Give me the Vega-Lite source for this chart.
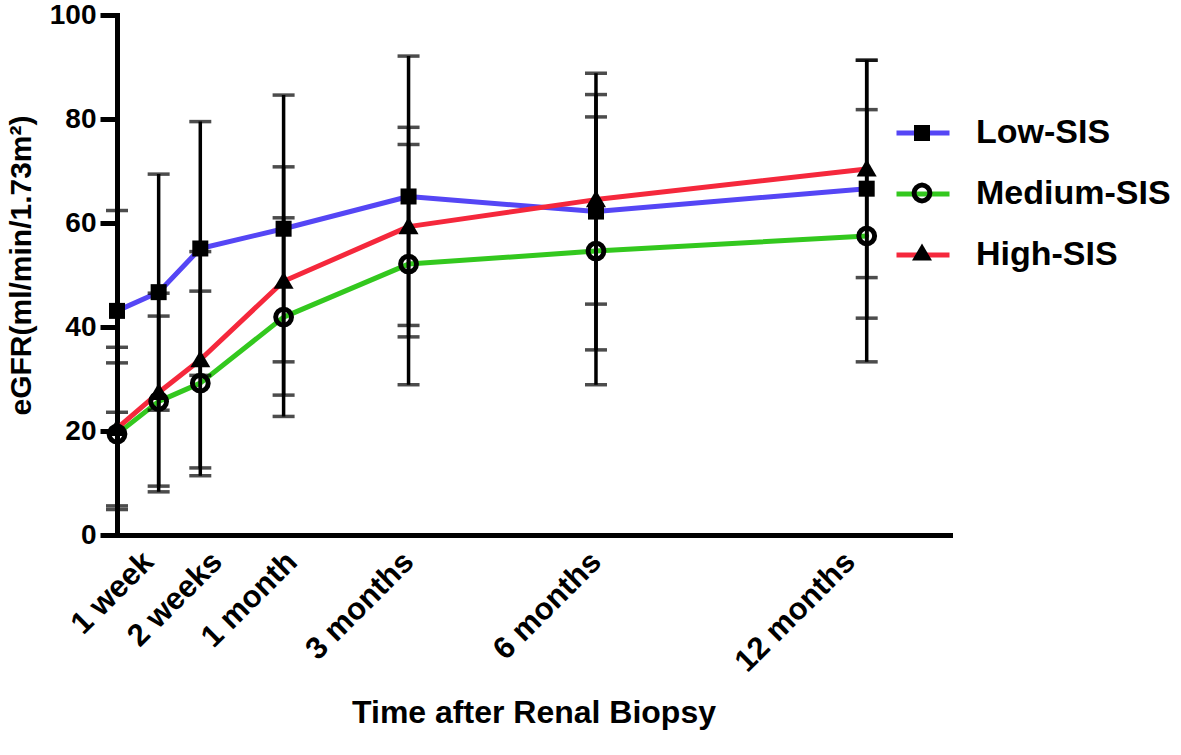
{
  "$schema": "https://vega.github.io/schema/vega-lite/v6.json",
  "width": 833,
  "height": 520,
  "autosize": "none",
  "padding": {"left": 117, "top": 15, "right": 231, "bottom": 220},
  "background": "white",
  "config": {
    "font": "Liberation Sans",
    "view": {"stroke": null},
    "axis": {"grid": false}
  },
  "data": {
    "values": [
      {"group": "Low-SIS", "time": "Biopsy", "t": 0, "mean": 43.1, "lo": 23.6, "hi": 62.4},
      {"group": "Low-SIS", "time": "1 week", "t": 1, "mean": 46.7, "lo": 24.0, "hi": 69.4},
      {"group": "Low-SIS", "time": "2 weeks", "t": 2, "mean": 55.1, "lo": 30.7, "hi": 79.5},
      {"group": "Low-SIS", "time": "1 month", "t": 4, "mean": 58.9, "lo": 33.3, "hi": 84.6},
      {"group": "Low-SIS", "time": "3 months", "t": 7, "mean": 65.1, "lo": 38.1, "hi": 92.1},
      {"group": "Low-SIS", "time": "6 months", "t": 11.5, "mean": 62.2, "lo": 35.6, "hi": 88.8},
      {"group": "Low-SIS", "time": "12 months", "t": 18, "mean": 66.6, "lo": 41.7, "hi": 91.3},
      {"group": "Medium-SIS", "time": "Biopsy", "t": 0, "mean": 19.4, "lo": 5.6, "hi": 33.1},
      {"group": "Medium-SIS", "time": "1 week", "t": 1, "mean": 25.7, "lo": 9.4, "hi": 42.1},
      {"group": "Medium-SIS", "time": "2 weeks", "t": 2, "mean": 29.2, "lo": 11.4, "hi": 46.9},
      {"group": "Medium-SIS", "time": "1 month", "t": 4, "mean": 41.9, "lo": 22.8, "hi": 61.0},
      {"group": "Medium-SIS", "time": "3 months", "t": 7, "mean": 52.1, "lo": 28.9, "hi": 75.1},
      {"group": "Medium-SIS", "time": "6 months", "t": 11.5, "mean": 54.6, "lo": 28.9, "hi": 80.4},
      {"group": "Medium-SIS", "time": "12 months", "t": 18, "mean": 57.5, "lo": 33.3, "hi": 81.8},
      {"group": "High-SIS", "time": "Biopsy", "t": 0, "mean": 20.5, "lo": 4.9, "hi": 36.1},
      {"group": "High-SIS", "time": "1 week", "t": 1, "mean": 27.4, "lo": 8.3, "hi": 46.5},
      {"group": "High-SIS", "time": "2 weeks", "t": 2, "mean": 33.7, "lo": 12.9, "hi": 54.5},
      {"group": "High-SIS", "time": "1 month", "t": 4, "mean": 48.8, "lo": 26.9, "hi": 70.8},
      {"group": "High-SIS", "time": "3 months", "t": 7, "mean": 59.3, "lo": 40.3, "hi": 78.4},
      {"group": "High-SIS", "time": "6 months", "t": 11.5, "mean": 64.5, "lo": 44.4, "hi": 84.7},
      {"group": "High-SIS", "time": "12 months", "t": 18, "mean": 70.4, "lo": 49.5, "hi": 91.3}
    ]
  },
  "layer": [
    {
      "mark": {"type": "line", "strokeWidth": 5, "strokeCap": "round", "strokeJoin": "round"},
      "encoding": {
        "x": {
          "field": "t", "type": "quantitative", "title": "Time after Renal Biopsy",
          "scale": {"domain": [0, 20], "nice": false, "zero": false},
          "axis": {
            "values": [0.75, 2.4, 4.2, 7, 11.5, 17.6],
            "labelExpr": "datum.value < 1.5 ? '1 week' : datum.value < 3 ? '2 weeks' : datum.value < 5 ? '1 month' : datum.value < 9 ? '3 months' : datum.value < 14 ? '6 months' : '12 months'",
            "labelAngle": -45, "labelAlign": "right", "labelBaseline": "middle",
            "ticks": false, "labelPadding": 22,
            "labelFontSize": 31, "labelFontWeight": "bold", "labelColor": "black",
            "labelFlush": false, "labelOverlap": false, "labelBound": false,
            "domainColor": "black", "domainWidth": 5, "domainCap": "square",
            "titleFontSize": 32, "titleFontWeight": "bold", "titleColor": "black", "titlePadding": 20
          }
        },
        "y": {
          "field": "mean", "type": "quantitative", "title": "eGFR(ml/min/1.73m²)",
          "scale": {"domain": [0, 100], "nice": false},
          "axis": {
            "values": [0, 20, 40, 60, 80, 100],
            "labelFontSize": 28, "labelFontWeight": "bold", "labelColor": "black", "labelPadding": 4,
            "labelFlush": false,
            "tickSize": 17, "tickWidth": 5, "tickColor": "black",
            "domainColor": "black", "domainWidth": 5, "domainCap": "square",
            "titleFontSize": 30, "titleFontWeight": "bold", "titleColor": "black", "titlePadding": 13,
            "titleY": 250
          }
        },
        "color": {
          "field": "group", "type": "nominal",
          "scale": {"domain": ["Low-SIS", "Medium-SIS", "High-SIS"], "range": ["#5546F5", "#33C81E", "#F5283C"]},
          "legend": {
            "orient": "none", "legendX": 777, "legendY": 89, "title": null, "padding": 0,
            "symbolType": "stroke", "symbolStrokeWidth": 5, "symbolSize": 2809,
            "labelFontSize": 34, "labelFontWeight": "bold", "labelColor": "black",
            "labelOffset": 24, "rowPadding": 15, "labelLimit": 400
          }
        }
      }
    },
    {
      "mark": {"type": "errorbar", "ticks": true, "size": 22, "thickness": 3.5, "color": "black"},
      "encoding": {
        "x": {"field": "t", "type": "quantitative", "title": "Time after Renal Biopsy"},
        "y": {"field": "lo", "type": "quantitative", "title": "eGFR(ml/min/1.73m²)"},
        "y2": {"field": "hi"},
        "detail": {"field": "group", "type": "nominal"}
      }
    },
    {
      "mark": {"type": "point", "filled": true, "color": "black", "strokeWidth": 0, "opacity": 1, "size": 256},
      "encoding": {
        "x": {"field": "t", "type": "quantitative", "title": "Time after Renal Biopsy"},
        "y": {"field": "mean", "type": "quantitative", "title": "eGFR(ml/min/1.73m²)"},
        "shape": {
          "field": "group", "type": "nominal",
          "sort": ["Low-SIS", "Medium-SIS", "High-SIS"],
          "scale": {"range": [
            "square",
            "M1.3,0L1.2011,0.4975L0.9192,0.9192L0.4975,1.2011L0,1.3L-0.4975,1.2011L-0.9192,0.9192L-1.2011,0.4975L-1.3,0L-1.2011,-0.4975L-0.9192,-0.9192L-0.4975,-1.2011L0,-1.3L0.4975,-1.2011L0.9192,-0.9192L1.2011,-0.4975ZM0.68,0L0.6282,-0.2602L0.4808,-0.4808L0.2602,-0.6282L0,-0.68L-0.2602,-0.6282L-0.4808,-0.4808L-0.6282,-0.2602L-0.68,0L-0.6282,0.2602L-0.4808,0.4808L-0.2602,0.6282L0,0.68L0.2602,0.6282L0.4808,0.4808L0.6282,0.2602Z",
            "M0,-1.2L1.25,0.95L-1.25,0.95Z"
          ]},
          "legend": {
            "orient": "none", "legendX": 788, "legendY": 101, "title": null, "padding": 0,
            "symbolSize": 256, "symbolStrokeWidth": 0, "symbolFillColor": "black", "symbolOpacity": 1,
            "labelFontSize": 34, "labelFontWeight": "bold", "labelExpr": "''",
            "labelOffset": 24, "rowPadding": 26, "labelLimit": 400
          }
        }
      }
    }
  ]
}
